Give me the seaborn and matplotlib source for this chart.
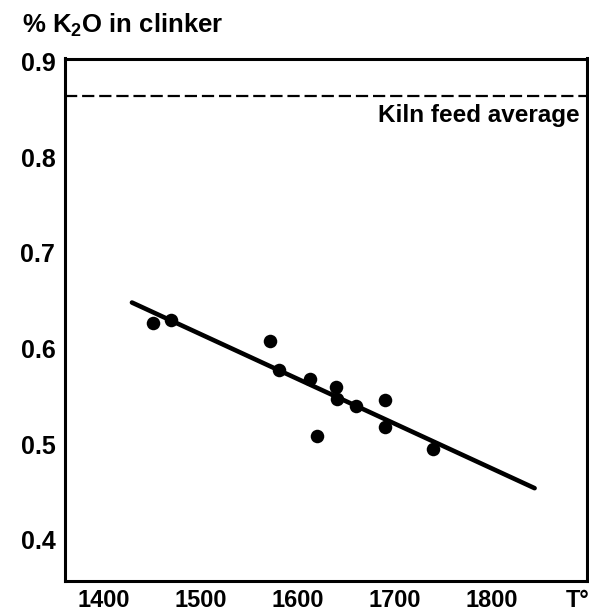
import matplotlib
matplotlib.use("Agg")
import matplotlib.pyplot as plt
import seaborn as sns
import pandas as pd
import matplotlib.transforms as mtransforms

# ---- data ----
temps = [1451, 1469, 1571, 1581, 1612, 1639, 1640, 1660, 1690, 1690, 1620, 1739]
k2o = [0.627, 0.630, 0.608, 0.578, 0.568, 0.560, 0.547, 0.540, 0.546, 0.518, 0.508, 0.495]
fit_temps = [1429, 1844]
fit_k2o = [0.648, 0.454]
kiln_feed_avg = 0.8636
x_ticks = [1400, 1500, 1600, 1700, 1800]
y_ticks = [0.4, 0.5, 0.6, 0.7, 0.8, 0.9]
title_text = "% K$_\\mathregular{2}$O in clinker"
avg_label = "Kiln feed average"
x_unit = "T°"

sns.set_style("white")
plt.rcParams['font.family'] = ['Liberation Sans', 'DejaVu Sans']
plt.rcParams['font.weight'] = 'bold'
plt.rcParams['mathtext.default'] = 'regular'
plt.rcParams['text.color'] = 'black'

fig = plt.figure(figsize=(5.89, 6.16), dpi=100)
ax = fig.add_axes([65/589, 1 - 581/616, (587 - 65)/589, (581 - 58.5)/616])

pts = pd.DataFrame({"T": temps, "K2O": k2o})
fit = pd.DataFrame({"T": fit_temps, "K2O": fit_k2o})

sns.lineplot(data=fit, x="T", y="K2O", ax=ax, color="black", linewidth=3.3,
             solid_capstyle="round")
sns.scatterplot(data=pts, x="T", y="K2O", ax=ax, color="black", s=95,
                edgecolor="black", linewidth=0, zorder=3)
ax.axhline(kiln_feed_avg, color="black", linewidth=1.6, dashes=(5.5, 2.2))

ax.set_xlim(1360, 1898)
ax.set_ylim(0.357, 0.903)
ax.set_xticks(x_ticks)
ax.set_yticks(y_ticks)
ax.set_xticklabels([str(t) for t in x_ticks])
ax.set_yticklabels([f"{v:.1f}" for v in y_ticks])
ax.set_xlabel("")
ax.set_ylabel("")

for sp in ax.spines.values():
    sp.set_visible(True)
    sp.set_color("black")
    sp.set_linewidth(2.2)

ax.tick_params(axis="both", direction="in", colors="black", width=1.3)
ax.tick_params(axis="y", length=8, pad=7, labelsize=18)
ax.tick_params(axis="x", length=7, pad=5.5, labelsize=17)
for lab in ax.get_xticklabels() + ax.get_yticklabels():
    lab.set_fontweight("bold")

ax.text(0.985, 0.843, avg_label, transform=mtransforms.blended_transform_factory(ax.transAxes, ax.transData),
        ha="right", va="center", fontsize=17.5, fontweight="bold")

ax.annotate(x_unit, xy=(1888, 0), xycoords=mtransforms.blended_transform_factory(ax.transData, ax.transAxes),
            xytext=(0, -5.5), textcoords="offset points", ha="center", va="top",
            fontsize=17, fontweight="bold")

fig.text(22/589, 1 - 25/616, title_text, ha="left", va="center",
         fontsize=18.5, fontweight="bold")

fig.savefig("out.png", dpi=100, facecolor="white")
